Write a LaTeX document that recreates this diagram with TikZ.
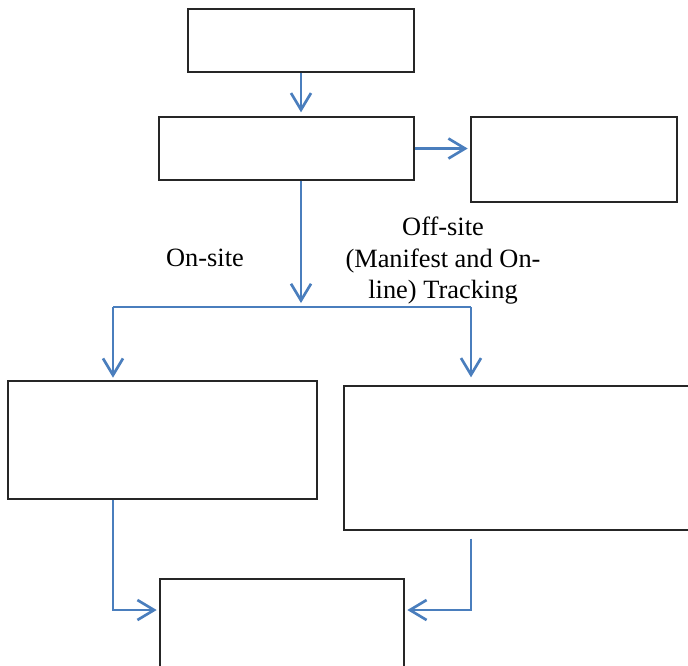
\documentclass[tikz,border=0pt]{standalone}
\usepackage{fontspec}
\setmainfont{Liberation Serif}
\usetikzlibrary{arrows.meta}
\usetikzlibrary{calc}
\definecolor{flowblue}{RGB}{74, 126, 189}
\tikzset{
    arrow/.style={-{Straight Barb[length=12.5pt,width=15pt]}, draw=flowblue, line width=2pt},
    link/.style={draw=flowblue, line width=2pt},
    box/.style = {
      rectangle,
      draw=black!85,
      line width=1pt,
      inner sep=0pt
    },
    caption/.style = {
      font=\fontsize{19.8}{23.6}\selectfont,
      align=center
    },
}
\begin{document}
\begin{tikzpicture}[x=0.75pt, y=-0.75pt]
        \useasboundingbox (0,0) rectangle (688,665);

        \node[box, minimum width=169.5pt, minimum height=47.25pt] (source) at (301,40.5) {};
        \node[box, minimum width=191.25pt, minimum height=47.25pt] (collect) at (286.5,148.5) {};
        \node[box, minimum width=154.5pt, minimum height=63.75pt] (side) at (574,159.5) {};
        \node[box, minimum width=231.75pt, minimum height=88.5pt] (onbox) at (162.5,440) {};
        \node[box, minimum width=259.5pt, minimum height=108pt] (offbox) at (517,458) {};
        \node[box, minimum width=183pt, minimum height=67.5pt] (result) at (282,624) {};

        \node[caption] (onsite) at (205,258) {On-site};
        \node[caption] (offsite) at (443,261) {Off-site\\(Manifest and On-\\line) Tracking};

        \coordinate (split) at (301,307);
        \coordinate (splitL) at (113,307);
        \coordinate (splitR) at (471,307);
        \coordinate (joinL) at (113,610);
        \coordinate (joinR) at (471,610);

        \draw[arrow, shorten >=3pt] (source.south) -- (source.south |- collect.north);
        \draw[arrow, shorten >=2pt] (collect.east) -- (side.west |- collect.east);
        \draw[arrow, shorten >=3pt] (source.south |- collect.south) -- (split);
        \draw[link] (splitL) -- (splitR);
        \draw[arrow, shorten >=2pt] (splitL) -- (splitL |- onbox.north);
        \draw[arrow, shorten >=6pt] (splitR) -- (splitR |- offbox.north);

        \draw[arrow, shorten >=2pt] (splitL |- onbox.south) -- (joinL) -- (joinL -| result.west);
        \draw[arrow, shorten <=6pt, shorten >=2pt] (splitR |- offbox.south) -- (joinR) -- (joinR -| result.east);
      \end{tikzpicture}
\end{document}
